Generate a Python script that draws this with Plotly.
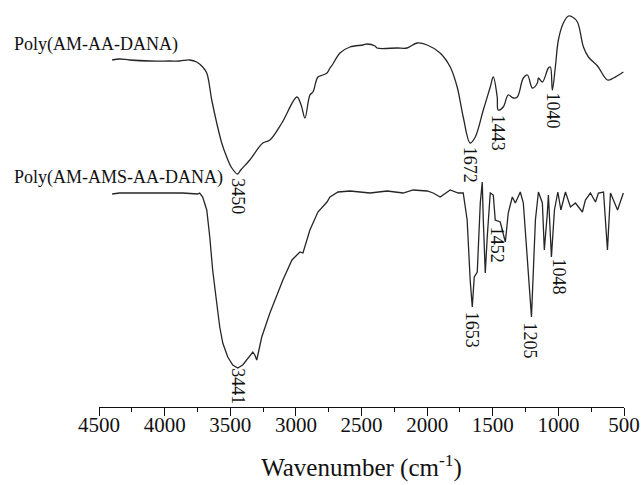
import plotly.graph_objects as go

# Wavenumbers (cm^-1) and transmittance (arbitrary units)
wn_top = [4400, 4344, 4267, 4114, 3962, 3885, 3809, 3756, 3710, 3679, 3641, 3603, 3565, 3527,
          3488, 3445, 3420, 3351, 3252, 3198, 3107, 2992, 2960, 2931, 2893, 2870, 2832, 2794,
          2763, 2740, 2718, 2664, 2588, 2488, 2458, 2397, 2382, 2229, 2153, 2076, 2000, 1901,
          1824, 1771, 1725, 1672, 1633, 1572, 1519, 1496, 1466, 1458, 1420, 1382, 1343, 1313,
          1267, 1236, 1198, 1160, 1152, 1122, 1076, 1061, 1046, 1023, 1000, 962, 923, 893,
          855, 809, 771, 702, 626, 580, 505]
t_top = [347, 348, 347, 346, 346, 346, 347, 345, 340, 334, 307, 284, 264, 250,
         239, 233, 237, 247, 264, 267, 284, 310, 302, 289, 312, 315, 330, 332,
         334, 339, 343, 354, 360, 362, 363, 361, 359, 359, 359, 364, 362, 354,
         340, 320, 290, 264, 270, 297, 320, 330, 310, 297, 300, 312, 309, 310,
         329, 332, 319, 324, 329, 325, 339, 340, 317, 340, 367, 384, 391, 390,
         385, 360, 350, 341, 327, 329, 335]

wn_bot = [4400, 4344, 4114, 3863, 3748, 3733, 3710, 3679, 3656, 3634, 3603, 3580, 3557, 3519,
          3481, 3443, 3405, 3366, 3328, 3313, 3298, 3260, 3198, 3099, 3030, 2992, 2969, 2946,
          2908, 2893, 2832, 2763, 2740, 2679, 2588, 2435, 2305, 2183, 2107, 2000, 1954, 1901,
          1824, 1763, 1725, 1695, 1672, 1656, 1641, 1618, 1595, 1580, 1572, 1557, 1542, 1519,
          1496, 1481, 1443, 1404, 1382, 1351, 1328, 1290, 1267, 1205, 1175, 1152, 1122, 1107,
          1084, 1076, 1053, 1030, 1004, 981, 946, 908, 870, 817, 794, 756, 717, 695,
          656, 626, 603, 549, 505]
t_bot = [213, 214, 214, 214, 213, 214, 210, 197, 170, 137, 104, 80, 64, 50,
         42, 39, 42, 49, 55, 52, 47, 70, 94, 127, 147, 152, 155, 154,
         172, 177, 195, 205, 210, 215, 216, 214, 216, 214, 217, 216, 214, 210,
         217, 214, 214, 187, 127, 100, 130, 135, 204, 225, 187, 134, 170, 214,
         212, 187, 185, 165, 194, 210, 204, 215, 204, 90, 187, 215, 204, 157,
         194, 212, 150, 197, 215, 197, 215, 200, 204, 195, 207, 214, 205, 214,
         215, 157, 214, 197, 214]

series_names = ["Poly(AM-AA-DANA)", "Poly(AM-AMS-AA-DANA)"]
series_name_t = [363, 230]

# Peak labels: text, wavenumber position, transmittance position
peak_text = ["3450", "1672", "1443", "1040", "3441", "1653", "1452", "1205", "1048"]
peak_wn = [3443, 1672, 1458, 1038, 3443, 1656, 1466, 1213, 992]
peak_t = [211, 242, 274, 296, 21, 77, 162, 66, 130]

tick_vals = [4500, 4000, 3500, 3000, 2500, 2000, 1500, 1000, 500]

SERIF = "Liberation Serif, Times New Roman, serif"
LINE = "#262626"

fig = go.Figure()
fig.add_trace(go.Scatter(x=wn_top, y=t_top, mode="lines",
                         line=dict(color=LINE, width=1.3), line_shape="spline",
                         name=series_names[0], showlegend=False))
fig.add_trace(go.Scatter(x=wn_bot, y=t_bot, mode="lines",
                         line=dict(color=LINE, width=1.3),
                         name=series_names[1], showlegend=False))

for name, ty in zip(series_names, series_name_t):
    fig.add_annotation(x=-0.166, xref="paper", y=ty, yref="y", text=name,
                       showarrow=False, xanchor="left", yanchor="middle",
                       font=dict(family=SERIF, size=18, color="#111"))

for txt, x, y in zip(peak_text, peak_wn, peak_t):
    fig.add_annotation(x=x, y=y, text=txt, textangle=90, showarrow=False,
                       xanchor="center", yanchor="middle",
                       font=dict(family=SERIF, size=18, color="#111"))

fig.update_layout(
    width=642, height=485,
    margin=dict(l=99, r=18, t=0, b=78),
    paper_bgcolor="white", plot_bgcolor="white",
    showlegend=False,
    xaxis=dict(
        range=[4500, 500], tickmode="array", tickvals=tick_vals,
        ticktext=[str(v) for v in tick_vals],
        ticks="outside", ticklen=8, tickwidth=1.2, tickcolor="#111",
        ticklabelstandoff=-9,
        showline=True, linecolor="#111", linewidth=1.2,
        showgrid=False, zeroline=False,
        minor=dict(ticks="outside", ticklen=4, tickwidth=1.2, tickcolor="#111",
                   tickvals=[4250, 3750, 3250, 2750, 2250, 1750, 1250, 750]),
        tickfont=dict(family=SERIF, size=21, color="#111"),
        title=dict(text="Wavenumber (cm<sup>-1</sup>)", standoff=22,
                   font=dict(family=SERIF, size=25, color="#111")),
    ),
    yaxis=dict(range=[0, 407], visible=False, showgrid=False, zeroline=False),
)

fig.write_html("out.html", config={"displayModeBar": False},
               post_script="document.body.style.margin='0';document.body.style.overflow='hidden';")
